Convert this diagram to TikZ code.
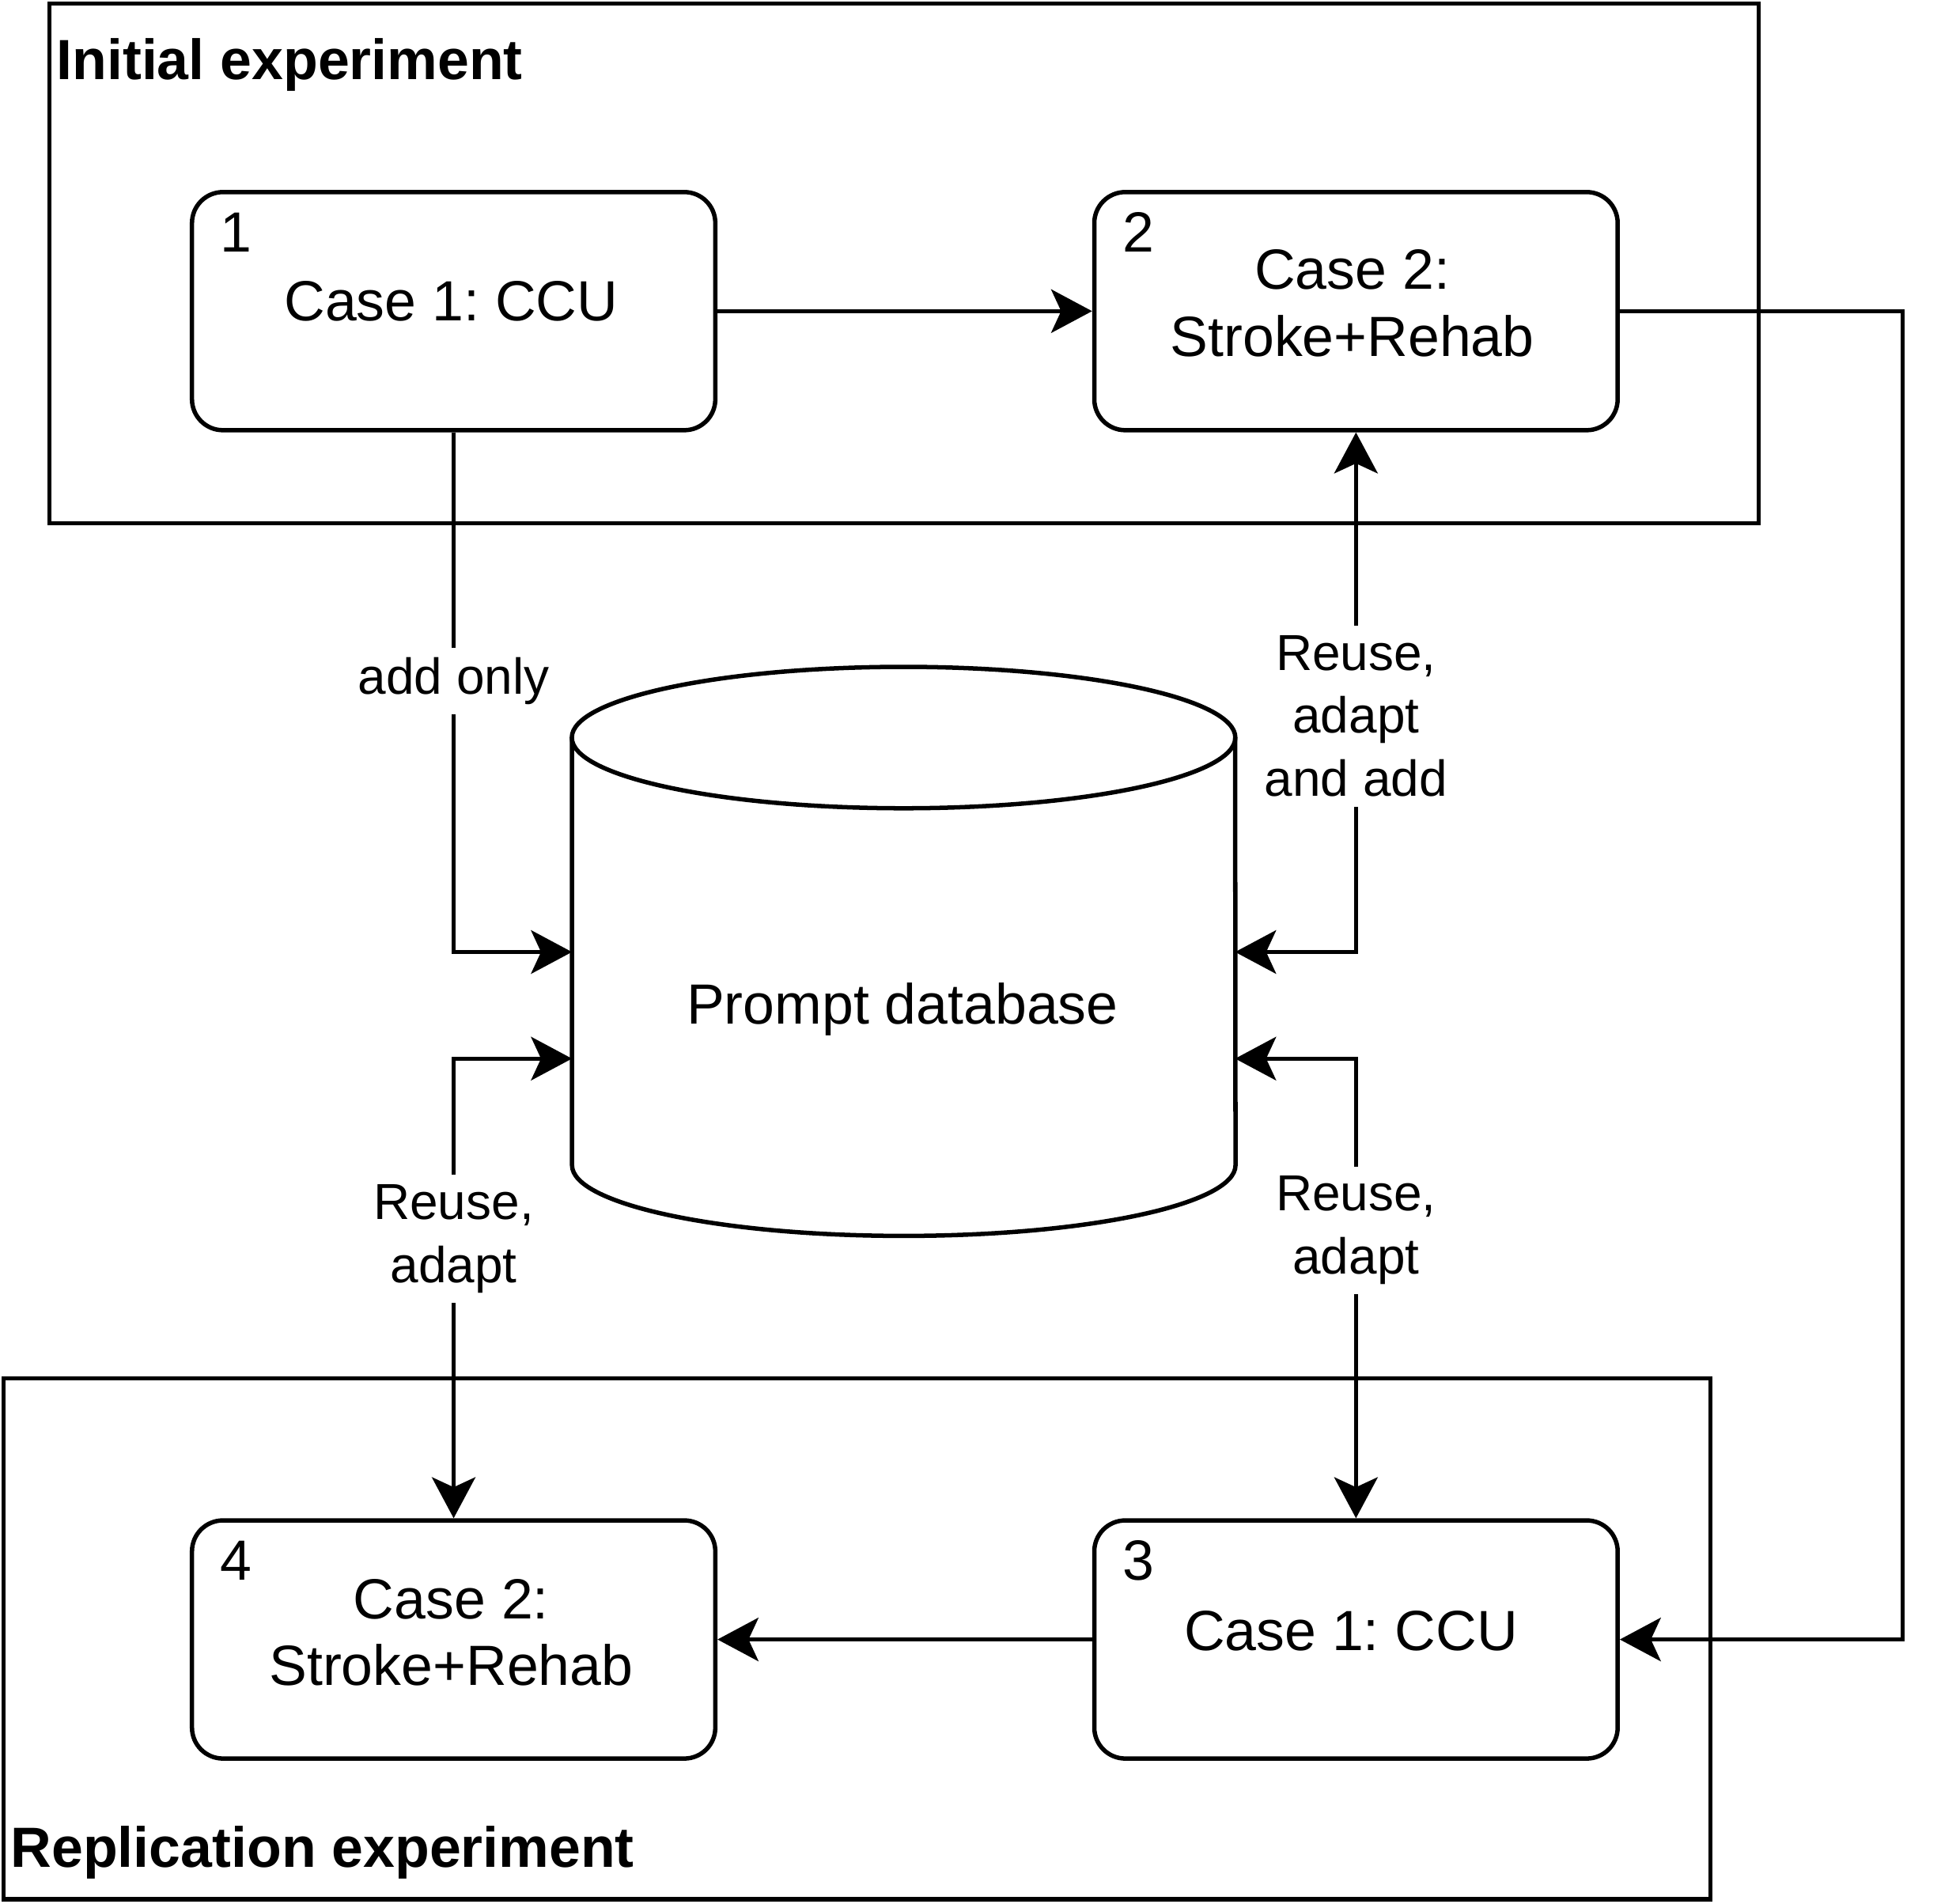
\documentclass[tikz,border=0pt]{standalone}
\usepackage{fontspec}
\setmainfont{Liberation Sans}
\usepackage{tikz}
\usetikzlibrary{arrows.meta}
\frenchspacing

\tikzset{
    casebox/.style={draw, line width=1pt, rounded corners=0.25cm, minimum width=4.22cm, minimum height=1.92cm, inner sep=0pt},
    casetext/.style={align=center, inner sep=0pt, font=\fontsize{13}{15.37}\selectfont},
    casenum/.style={anchor=base west, inner sep=0pt, font=\fontsize{13}{15.37}\selectfont},
    frametitle/.style={anchor=base west, inner sep=0pt, font=\bfseries\fontsize{13}{15.37}\selectfont},
    flowlbl/.style={fill=white, align=center, inner sep=2.2pt, font=\fontsize{11.6}{14.5}\selectfont},
    flow/.style={line width=1pt, >={Stealth[length=0.33cm,width=0.35cm,inset=0.08cm]}},
    framebox/.style={draw, line width=1pt}
}

\begin{document}
\begin{tikzpicture}[x=0.01cm,y=-0.01cm]
    \useasboundingbox (0,0) rectangle (1566,1535.4);

    % experiment frames
    \draw[framebox] (40,3) rectangle (1419,422);
    \draw[framebox] (3,1112) rectangle (1380,1532);
    \node[frametitle] (initial) at (45,64) {Initial experiment};
    \node[frametitle] (replication) at (8,1506) {Replication experiment};

    % prompt database
    \draw[line width=1pt] (461.5,595) -- (461.5,940) arc[start angle=180, end angle=360, x radius=2.675cm, y radius=0.57cm] -- (996.5,595);
    \draw[line width=1pt] (729,595) ellipse[x radius=2.675cm, y radius=0.57cm];
    \node[casetext] (db) at (728,814) {Prompt database};
    \coordinate (dbwa) at (461.5,768);
    \coordinate (dbwb) at (461.5,854);
    \coordinate (dbea) at (996.5,768);
    \coordinate (dbeb) at (996.5,854);

    % cases
    \node[casebox] (b1) at (366,251) {};
    \node[casebox] (b2) at (1094,251) {};
    \node[casebox] (b3) at (1094,1322.6) {};
    \node[casebox] (b4) at (366,1322.6) {};
    \node[casenum] (n1) at (177,203) {1};
    \node[casenum] (n2) at (905,203) {2};
    \node[casenum] (n3) at (905,1274.6) {3};
    \node[casenum] (n4) at (177,1274.6) {4};
    \node[casetext] (t1) at (364,243) {Case 1: CCU};
    \node[casetext] (t2) at (1091,244.5) {Case 2:\\Stroke+Rehab};
    \node[casetext] (t3) at (1090,1316) {Case 1: CCU};
    \node[casetext] (t4) at (364,1317) {Case 2:\\Stroke+Rehab};

    \coordinate (rc) at (1535,800);

    % connectors
    \draw[flow,->] (b1.east) -- (b2.west);
    \draw[flow,->] (b3.west) -- (b4.east);
    \draw[flow,->] (b2.east) -| (rc) |- (b3.east);
    \draw[flow,->] (b1.south) |- (dbwa) node[flowlbl, pos=0.239] (l1) {add only};
    \draw[flow,<->] (dbea) -| (b2.south) node[flowlbl, pos=0.727] (l2) {Reuse,\\adapt\\and add};
    \draw[flow,<->] (b4.north) |- (dbwb) node[flowlbl, pos=0.304] (l3) {Reuse,\\adapt};
    \draw[flow,<->] (b3.north) |- (dbeb) node[flowlbl, pos=0.313] (l4) {Reuse,\\adapt};
\end{tikzpicture}
\end{document}
